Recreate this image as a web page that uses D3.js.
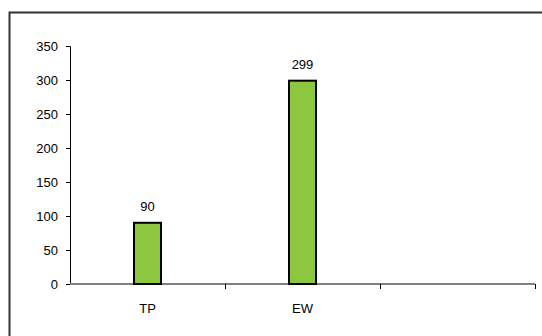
<!DOCTYPE html>
<html><head><meta charset="utf-8">
<script src="https://cdn.jsdelivr.net/npm/d3@7"></script>
<style>body{margin:0;background:#fff}svg{display:block}</style>
</head><body>
<svg id="c" width="542" height="336"></svg>
<script>
const categories = ["TP", "EW", ""];
const values = [90, 299, null];
const yTicks = [0, 50, 100, 150, 200, 250, 300, 350];

const svg = d3.select("#c");
const font = "'Liberation Sans', Arial, sans-serif";
// frame (only top and left edges fall inside the picture)
svg.append("rect").attr("x", 9.5).attr("y", 12.5).attr("width", 600).attr("height", 400)
  .attr("fill", "none").attr("stroke", "#333").attr("stroke-width", 2);

const x0 = 70, x1 = 535, yTop = 46, yBot = 284;
const x = d3.scaleBand().domain(categories.map((c,i)=>i)).range([x0, x1]).paddingInner(0).paddingOuter(0);
const y = d3.scaleLinear().domain([0, 350]).range([yBot, yTop]);

// y axis
const ya = svg.append("g").attr("transform", `translate(${x0},0)`)
  .call(d3.axisLeft(y).tickValues(yTicks).tickSize(4).tickPadding(8));
ya.select(".domain").attr("stroke", "#000").attr("stroke-width", 1);
ya.selectAll(".tick line").attr("stroke", "#000");
ya.selectAll("text").attr("font-family", font).attr("font-size", 13).attr("fill", "#000");

// x axis
const xa = svg.append("g").attr("transform", `translate(0,${yBot})`);
xa.append("line").attr("x1", x0).attr("x2", x1).attr("y1", 0).attr("y2", 0)
  .attr("stroke", "#808080").attr("stroke-width", 2);
const bounds = categories.map((c,i)=>x(i)).concat([x1]);
xa.selectAll("line.tk").data(bounds.slice(1)).join("line").attr("class","tk")
  .attr("x1", d=>d+0.5).attr("x2", d=>d+0.5).attr("y1", 0).attr("y2", 5)
  .attr("stroke", "#000");
xa.selectAll("text").data(categories).join("text")
  .attr("x", (d,i)=>x(i)+x.bandwidth()/2).attr("y", 29)
  .attr("text-anchor", "middle").attr("font-family", font).attr("font-size", 13)
  .text(d=>d);

// bars
const bw = 27;
const data = values.map((v,i)=>({v,i})).filter(d=>d.v!=null);
svg.selectAll("rect.bar").data(data).join("rect").attr("class","bar")
  .attr("x", d=>x(d.i)+x.bandwidth()/2-bw/2).attr("width", bw)
  .attr("y", d=>y(d.v)).attr("height", d=>yBot-y(d.v))
  .attr("fill", "#8dc63f").attr("stroke", "#000").attr("stroke-width", 2);
svg.selectAll("text.lbl").data(data).join("text").attr("class","lbl")
  .attr("x", d=>x(d.i)+x.bandwidth()/2).attr("y", d=>y(d.v)-12)
  .attr("text-anchor", "middle").attr("font-family", font).attr("font-size", 13)
  .text(d=>d.v);
</script>
</body></html>
